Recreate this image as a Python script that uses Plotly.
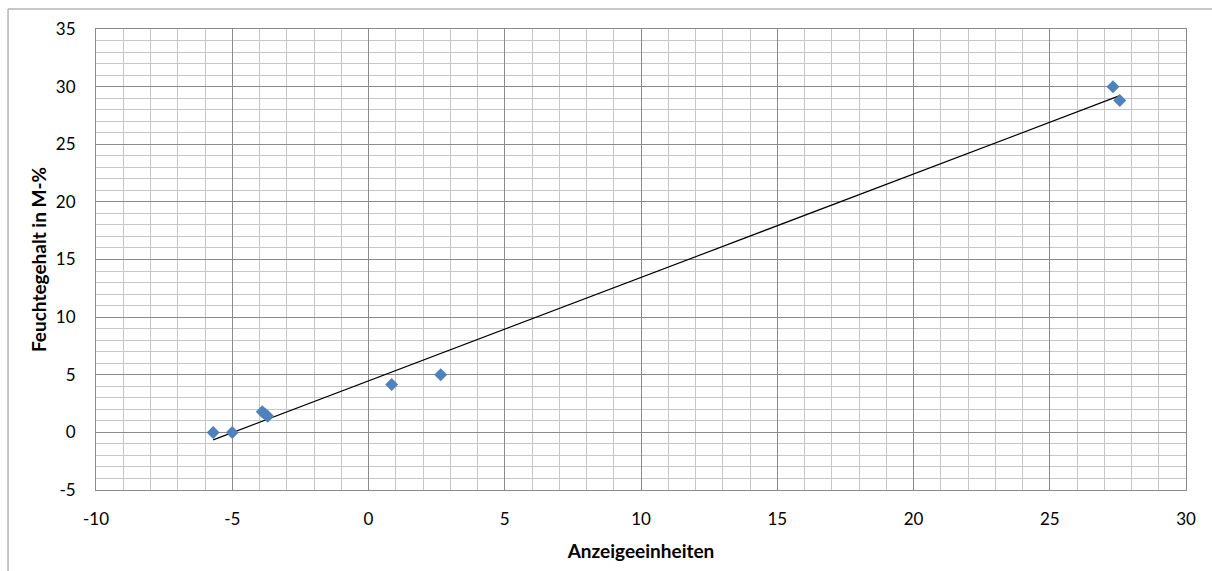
import numpy as np
import plotly.graph_objects as go

# Data
anzeige = [-5.7, -5.0, -3.9, -3.8, -3.7, 0.85, 2.65, 27.32, 27.57]
feuchte = [0.0, 0.0, 1.8, 1.6, 1.4, 4.15, 5.0, 30.0, 28.8]

x_ticks = [-10, -5, 0, 5, 10, 15, 20, 25, 30]
y_ticks = [-5, 0, 5, 10, 15, 20, 25, 30, 35]

# linear trend line (least squares), drawn over the data range
slope, intercept = np.polyfit(anzeige, feuchte, 1)
trend_x = [min(anzeige), max(anzeige)]
trend_y = [slope * v + intercept for v in trend_x]

FONT = "Lato, 'Liberation Sans', sans-serif"
MAJOR = "#8a8a8a"
MINOR = "#c6c6c6"

fig = go.Figure()
fig.add_trace(go.Scatter(
    x=trend_x, y=trend_y, mode="lines",
    line=dict(color="black", width=1.2), showlegend=False, hoverinfo="skip"))
fig.add_trace(go.Scatter(
    x=anzeige, y=feuchte, mode="markers",
    marker=dict(symbol="diamond", size=10, color="#4f81bd"),
    showlegend=False))

axis_common = dict(
    showgrid=True, gridcolor=MAJOR, gridwidth=1,
    showline=True, linecolor=MAJOR, linewidth=1, mirror=True,
    zeroline=False, ticks="", tickfont=dict(family=FONT, size=17, color="black"),
)

fig.update_xaxes(
    range=[-10, 30], tickmode="array", tickvals=x_ticks,
    ticktext=[str(v) for v in x_ticks], ticklabelstandoff=14,
    minor=dict(dtick=1, showgrid=True, gridcolor=MINOR, gridwidth=1),
    title=dict(text="<b>Anzeigeeinheiten</b>", font=dict(family=FONT, size=19, color="black"), standoff=16),
    **axis_common)
fig.update_yaxes(
    range=[-5, 35], tickmode="array", tickvals=y_ticks,
    ticktext=[str(v) for v in y_ticks], ticklabelstandoff=16,
    minor=dict(dtick=1, showgrid=True, gridcolor=MINOR, gridwidth=1),
    title=dict(text="<b>Feuchtegehalt in M-%</b>", font=dict(family=FONT, size=19, color="black"), standoff=4),
    **axis_common)

# outer chart frame (partially visible in the reference)
fig.add_shape(type="line", xref="paper", yref="paper",
              x0=-0.0807, x1=1.03, y0=1.0434, y1=1.0434,
              line=dict(color="#b4b4b4", width=1.5))
fig.add_shape(type="line", xref="paper", yref="paper",
              x0=-0.0807, x1=-0.0807, y0=1.0434, y1=-0.2,
              line=dict(color="#b4b4b4", width=1.5))

fig.update_layout(
    width=1212, height=571,
    margin=dict(l=96, r=26, t=29, b=81),
    paper_bgcolor="white", plot_bgcolor="white",
    font=dict(family=FONT, size=17, color="black"),
)

fig.write_html("out.html")
